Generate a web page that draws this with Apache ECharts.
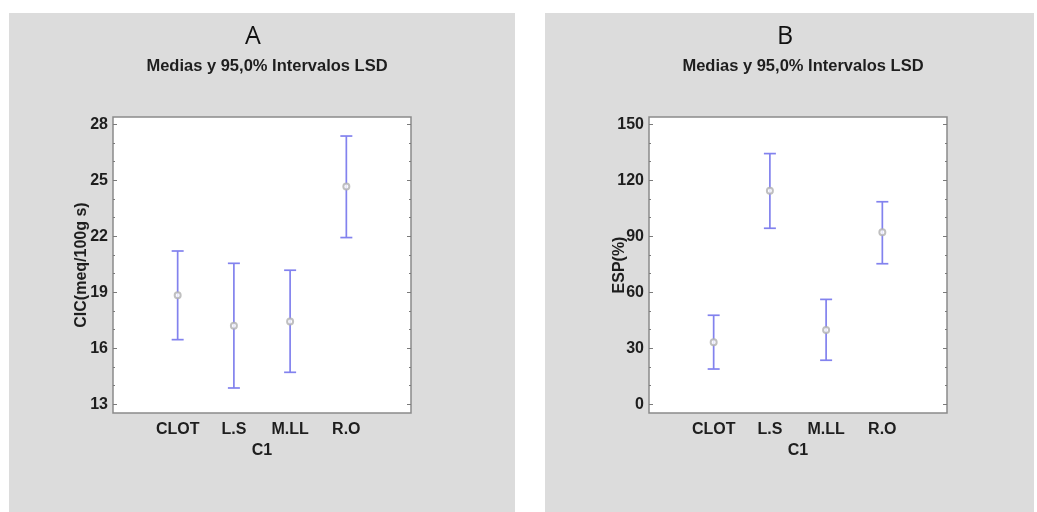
<!DOCTYPE html>
<html>
<head>
<meta charset="utf-8">
<script src="https://cdn.jsdelivr.net/npm/echarts@6/dist/echarts.min.js"></script>
<style>
  html, body { margin: 0; padding: 0; background: #fff; }
  #chart { width: 1037px; height: 512px; }
</style>
</head>
<body>
<div id="chart"></div>
<script>
// groups on the x axis
const categories = ['CLOT', 'L.S', 'M.LL', 'R.O']

// panel A: CIC (meq/100g s), means and LSD interval limits
const cicLow = [16.46, 13.87, 14.71, 21.93]
const cicMean = [18.84, 17.21, 17.43, 24.66]
const cicHigh = [21.21, 20.55, 20.18, 27.37]
const cicTicks = [13, 16, 19, 22, 25, 28]
const cicMinor = [14, 15, 17, 18, 20, 21, 23, 24, 26, 27]

// panel B: ESP (%)
const espLow = [18.9, 94.3, 23.6, 75.3]
const espMean = [33.2, 114.4, 39.8, 92.1]
const espHigh = [47.7, 134.3, 56.2, 108.5]
const espTicks = [0, 30, 60, 90, 120, 150]
const espMinor = [10, 20, 40, 50, 70, 80, 100, 110, 130, 140]

const FONT = 'Liberation Sans, Arial, sans-serif'
const TEXT = '#1e1e1e'
const BAR = '#8282ee'

const chart = echarts.init(document.getElementById('chart'))

function yAxes(gridIndex, range, ticks, minor, name, nameGap) {
  const base = {
    type: 'value', gridIndex, min: range[0], max: range[1],
    splitLine: { show: false },
    axisLine: { show: false, onZero: false }
  }
  const tickStyle = { color: '#7a7a7a', width: 1 }
  return [
    Object.assign({}, base, {
      position: 'left',
      name,
      nameLocation: 'middle',
      nameGap,
      nameMoveOverlap: false,
      nameTextStyle: { fontFamily: FONT, fontWeight: 'bold', fontSize: 16, color: TEXT },
      axisTick: { show: true, inside: true, length: 4, lineStyle: tickStyle, customValues: ticks },
      axisLabel: { fontFamily: FONT, fontWeight: 'bold', fontSize: 16, color: TEXT, margin: 5, customValues: ticks }
    }),
    Object.assign({}, base, {
      position: 'right',
      axisTick: { show: true, inside: true, length: 4, lineStyle: tickStyle, customValues: ticks },
      axisLabel: { show: false }
    }),
    Object.assign({}, base, {
      position: 'left',
      axisTick: { show: true, inside: true, length: 2, lineStyle: tickStyle, customValues: minor },
      axisLabel: { show: false }
    }),
    Object.assign({}, base, {
      position: 'right',
      axisTick: { show: true, inside: true, length: 2, lineStyle: tickStyle, customValues: minor },
      axisLabel: { show: false }
    })
  ]
}

function xAxis(gridIndex) {
  return {
    type: 'value',
    gridIndex,
    min: -0.15,
    max: 5.15,
    position: 'bottom',
    name: 'C1',
    nameLocation: 'middle',
    nameGap: 30,
    nameTextStyle: { fontFamily: FONT, fontWeight: 'bold', fontSize: 16, color: TEXT },
    splitLine: { show: false },
    axisLine: { show: false, onZero: false },
    axisTick: { show: false },
    axisLabel: {
      fontFamily: FONT, fontWeight: 'bold', fontSize: 16, color: TEXT, margin: 9,
      customValues: [1, 2, 3, 4],
      formatter: v => categories[Math.round(v) - 1] || ''
    }
  }
}

function intervalData(low, mean, high) {
  return categories.map((c, i) => [i + 1, low[i], mean[i], high[i]])
}

function renderBar(params, api) {
  const x = api.value(0)
  const lo = api.coord([x, api.value(1)])
  const hi = api.coord([x, api.value(3)])
  const half = 6
  const style = { stroke: BAR, lineWidth: 1.7 }
  return {
    type: 'group',
    children: [
      { type: 'line', shape: { x1: lo[0], y1: lo[1], x2: hi[0], y2: hi[1] }, style },
      { type: 'line', shape: { x1: lo[0] - half, y1: lo[1], x2: lo[0] + half, y2: lo[1] }, style },
      { type: 'line', shape: { x1: hi[0] - half, y1: hi[1], x2: hi[0] + half, y2: hi[1] }, style }
    ]
  }
}

function panelSeries(gridIdx, low, mean, high) {
  return [
    {
      type: 'custom',
      xAxisIndex: gridIdx,
      yAxisIndex: gridIdx * 4,
      renderItem: renderBar,
      data: intervalData(low, mean, high),
      silent: true
    },
    {
      type: 'scatter',
      xAxisIndex: gridIdx,
      yAxisIndex: gridIdx * 4,
      symbol: 'emptyCircle',
      symbolSize: 6,
      itemStyle: { color: '#b0b0b0', borderColor: '#b0b0b0', borderWidth: 1 },
      data: categories.map((c, i) => [i + 1, mean[i]]),
      silent: true
    }
  ]
}

const option = {
  backgroundColor: '#fff',
  animation: false,
  graphic: [
    { type: 'rect', z: -10, shape: { x: 9, y: 13, width: 506, height: 499 }, style: { fill: '#dcdcdc' } },
    { type: 'rect', z: -10, shape: { x: 545, y: 13, width: 489, height: 499 }, style: { fill: '#dcdcdc' } }
  ],
  title: [
    { text: 'A', left: 248, top: 19, textAlign: 'center', textStyle: { fontFamily: 'Open Sans, sans-serif', fontWeight: 'normal', fontSize: 25, color: '#111' } },
    { text: 'B', left: 780, top: 19, textAlign: 'center', textStyle: { fontFamily: 'Open Sans, sans-serif', fontWeight: 'normal', fontSize: 25, color: '#111' } },
    { text: 'Medias y 95,0% Intervalos LSD', left: 262, top: 53, textAlign: 'center', textStyle: { fontFamily: FONT, fontWeight: 'bold', fontSize: 16.5, color: TEXT } },
    { text: 'Medias y 95,0% Intervalos LSD', left: 798, top: 53, textAlign: 'center', textStyle: { fontFamily: FONT, fontWeight: 'bold', fontSize: 16.5, color: TEXT } }
  ],
  grid: [
    { left: 113, top: 117, width: 298, height: 296, show: true, backgroundColor: '#fff', borderColor: '#8a8a8a', borderWidth: 1.5 },
    { left: 649, top: 117, width: 298, height: 296, show: true, backgroundColor: '#fff', borderColor: '#8a8a8a', borderWidth: 1.5 }
  ],
  xAxis: [xAxis(0), xAxis(1)],
  yAxis: [
    ...yAxes(0, [12.53, 28.39], cicTicks, cicMinor, 'CIC(meq/100g s)', 23),
    ...yAxes(1, [-4.66, 153.9], espTicks, espMinor, 'ESP(%)', 21)
  ],
  series: [
    ...panelSeries(0, cicLow, cicMean, cicHigh),
    ...panelSeries(1, espLow, espMean, espHigh)
  ]
}

chart.setOption(option)
</script>
</body>
</html>
